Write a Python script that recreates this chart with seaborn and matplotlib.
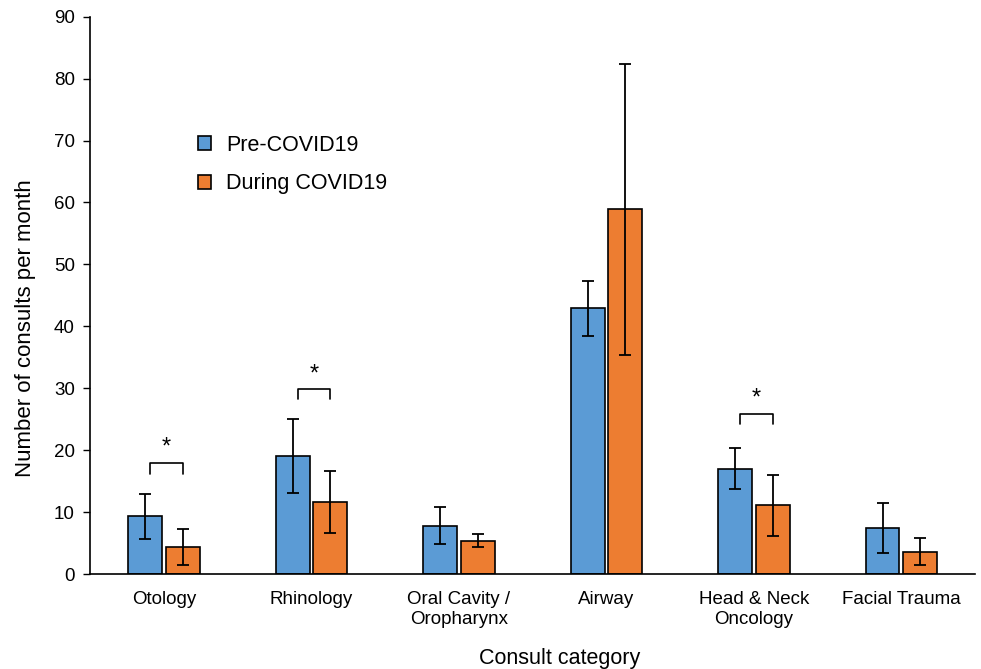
import numpy as np
import pandas as pd
import matplotlib
matplotlib.use("Agg")
import matplotlib.pyplot as plt
import seaborn as sns

# values
categories = ["Otology", "Rhinology", "Oral Cavity /\nOropharynx", "Airway",
              "Head & Neck\nOncology", "Facial Trauma"]
pre_mean = [9.3, 19.1, 7.8, 42.9, 17.0, 7.4]
pre_err = [3.6, 6.0, 2.95, 4.5, 3.3, 4.0]
during_mean = [4.4, 11.7, 5.4, 58.9, 11.1, 3.6]
during_err = [2.9, 5.0, 1.1, 23.5, 4.95, 2.2]
groups = ["Pre-COVID19", "During COVID19"]

# significance brackets: category index, bracket top, leg bottom
sig_idx = [0, 1, 4]
sig_top = [18.0, 29.8, 25.9]
sig_leg = [16.2, 28.3, 24.2]

df = pd.DataFrame({
    "category": categories * 2,
    "value": pre_mean + during_mean,
    "group": [groups[0]] * 6 + [groups[1]] * 6,
})

sns.set_style("white")
plt.rcParams["font.family"] = ["Liberation Sans", "DejaVu Sans"]
plt.rcParams["text.color"] = "black"
plt.rcParams["axes.labelcolor"] = "black"
plt.rcParams["xtick.color"] = "black"
plt.rcParams["ytick.color"] = "black"

fig, ax = plt.subplots(figsize=(9.81, 6.69), dpi=100)
fig.subplots_adjust(left=0.092, right=0.994, top=0.975, bottom=0.142)

sns.barplot(
    data=df, x="category", y="value", hue="group",
    palette=["#5B9BD5", "#ED7D31"], saturation=1, width=0.51, gap=0.1,
    edgecolor="black", linewidth=1.2, errorbar=None, ax=ax,
)

# error bars at the bar centres
for cont, errs in zip(ax.containers, [pre_err, during_err]):
    xs = [p.get_x() + p.get_width() / 2 for p in cont.patches]
    ys = [p.get_height() for p in cont.patches]
    ax.errorbar(xs, ys, yerr=errs, fmt="none", ecolor="black",
                elinewidth=1.3, capsize=4.5, capthick=1.3, zorder=5)

# significance brackets
blue = ax.containers[0].patches
orange = ax.containers[1].patches
for i, top, leg in zip(sig_idx, sig_top, sig_leg):
    x0 = blue[i].get_x() + blue[i].get_width() * 0.65
    x1 = orange[i].get_x() + orange[i].get_width() / 2
    ax.plot([x0, x0, x1, x1], [leg, top, top, leg], color="black", lw=1.2)
    ax.text((x0 + x1) / 2, top + 0.7, "*", ha="center", va="bottom",
            fontsize=17)

ax.set_ylim(0, 90)
ax.set_yticks(np.arange(0, 91, 10))
ax.set_xlim(-0.5, 5.5)
ax.set_xlabel("Consult category", fontsize=15.5)
ax.set_ylabel("Number of consults per month", fontsize=16)
ax.xaxis.set_label_coords(0.531, -0.133)
ax.yaxis.set_label_coords(-0.061, 0.442)
ax.tick_params(axis="y", labelsize=13.5, direction="out", length=5, width=1,
               left=True, pad=6)
ax.tick_params(axis="x", labelsize=13.5, bottom=False, pad=9)

sns.despine(ax=ax)
for s in ["left", "bottom"]:
    ax.spines[s].set_color("black")
    ax.spines[s].set_linewidth(1.2)

ax.legend(frameon=False, fontsize=15.5, loc="upper left",
          bbox_to_anchor=(0.1, 0.823), handlelength=0.6, handleheight=0.6,
          handletextpad=0.7, labelspacing=0.82)

fig.savefig("out.png", dpi=100)
